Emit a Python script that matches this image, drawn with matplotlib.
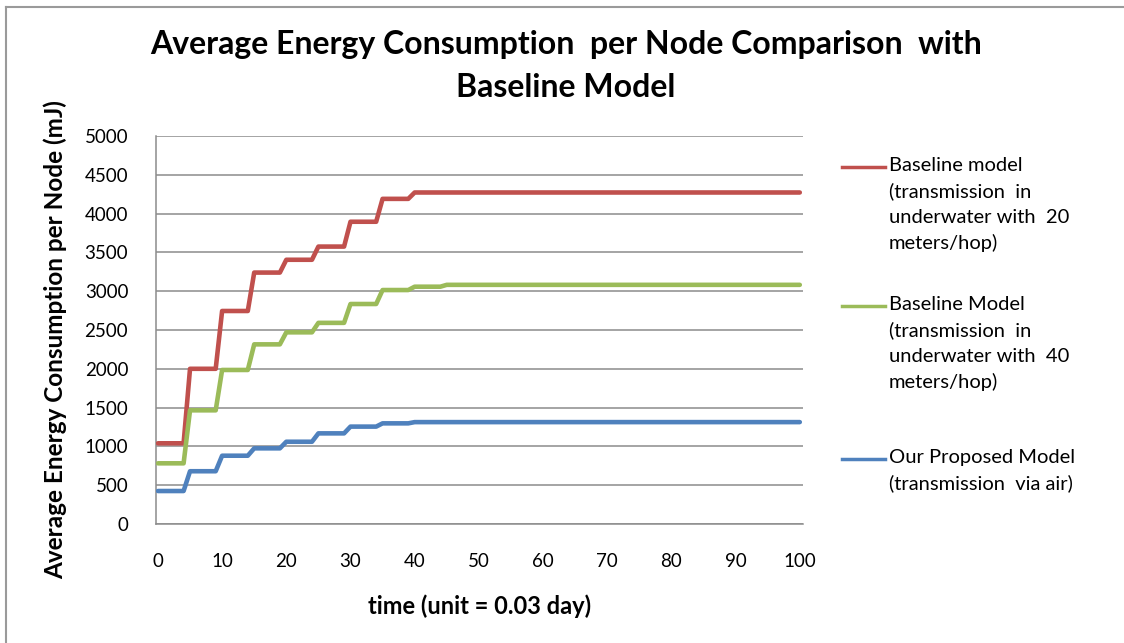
import matplotlib
matplotlib.use("Agg")
import matplotlib.pyplot as plt
from matplotlib.lines import Line2D

plt.rcParams['font.family'] = ['Lato', 'DejaVu Sans']

# Data (step breakpoints)
red_x = [0, 4, 5, 9, 10, 14, 15, 19, 20, 24, 25, 29, 30, 34, 35, 39, 40, 100]
red_y = [1040, 1040, 2000, 2000, 2745, 2745, 3240, 3240, 3405, 3405,
         3575, 3575, 3895, 3895, 4190, 4190, 4272, 4272]
green_x = [0, 4, 5, 9, 10, 14, 15, 19, 20, 24, 25, 29, 30, 34, 35, 39, 40, 44, 45, 100]
green_y = [782, 782, 1465, 1465, 1985, 1985, 2315, 2315, 2470, 2470,
           2592, 2592, 2835, 2835, 3015, 3015, 3058, 3058, 3082, 3082]
blue_x = [0, 4, 5, 9, 10, 14, 15, 19, 20, 24, 25, 29, 30, 34, 35, 39, 40, 100]
blue_y = [425, 425, 680, 680, 880, 880, 975, 975, 1060, 1060,
          1168, 1168, 1255, 1255, 1297, 1297, 1313, 1313]

labels = ["Baseline model\n(transmission  in\nunderwater with  20\nmeters/hop)",
          "Baseline Model\n(transmission  in\nunderwater with  40\nmeters/hop)",
          "Our Proposed Model\n(transmission  via air)"]
colors = ["#C0504D", "#9BBB59", "#4F81BD"]
x_ticks = [0, 10, 20, 30, 40, 50, 60, 70, 80, 90, 100]
y_ticks = [0, 500, 1000, 1500, 2000, 2500, 3000, 3500, 4000, 4500, 5000]

W, H = 1124, 643
fig = plt.figure(figsize=(W / 100, H / 100), dpi=100)
ax = fig.add_axes([156 / W, 1 - 524 / H, (803 - 156) / W, 388 / H])

series = [(red_x, red_y), (green_x, green_y), (blue_x, blue_y)]
for (xs, ys), c in zip(series, colors):
    ax.plot(xs, ys, color=c, lw=3.3, solid_capstyle='round', solid_joinstyle='round', zorder=3)

ax.set_xlim(-0.3, 100.5)
ax.set_ylim(0, 5000)
ax.set_yticks(y_ticks)
ax.set_xticks(x_ticks)
ax.set_xticklabels([str(v) for v in x_ticks])
ax.grid(axis='y', color='#8c8c8c', lw=1.1, zorder=1)
for s in ['top', 'right']:
    ax.spines[s].set_visible(False)
for s in ['left', 'bottom']:
    ax.spines[s].set_color('#8c8c8c')
    ax.spines[s].set_linewidth(1.1)
ax.tick_params(axis='both', length=0, labelsize=13.5, colors='black')
ax.tick_params(axis='y', pad=20)
ax.tick_params(axis='x', pad=21)

ax.set_ylabel("Average Energy Consumption per Node (mJ)", fontsize=17.5,
              fontweight='bold')
ax.yaxis.set_label_coords(-(156 - 55) / (803 - 156), (524 - 340) / 388)
ax.yaxis.label.set_va('center')
ax.set_xlabel("time (unit = 0.03 day)", fontsize=17, fontweight='bold')
ax.xaxis.set_label_coords((480 - 156) / (803 - 156), -(606 - 524) / 388)
ax.xaxis.label.set_va('center')

fig.text(566 / W, 1 - 66 / H, "Average Energy Consumption  per Node Comparison  with\nBaseline Model",
         ha='center', va='center', fontsize=23, fontweight='bold', linespacing=1.62)

# Legend drawn manually to match the spread-out layout
leg_y = [167, 306, 459]
for yy, lab, c in zip(leg_y, labels, colors):
    fig.add_artist(Line2D([842 / W, 885 / W], [1 - yy / H, 1 - yy / H],
                          color=c, lw=2.5, transform=fig.transFigure))
    fig.text(889 / W, 1 - (yy - 10) / H, lab, ha='left', va='top', fontsize=14.5,
             linespacing=1.58)

# Outer chart frame (top and left visible)
fig.add_artist(Line2D([6 / W, 1], [1 - 7 / H, 1 - 7 / H], color='#9a9a9a', lw=1.5,
                      transform=fig.transFigure))
fig.add_artist(Line2D([6 / W, 6 / W], [0, 1 - 7 / H], color='#9a9a9a', lw=1.5,
                      transform=fig.transFigure))

fig.savefig("out.png", dpi=100)
